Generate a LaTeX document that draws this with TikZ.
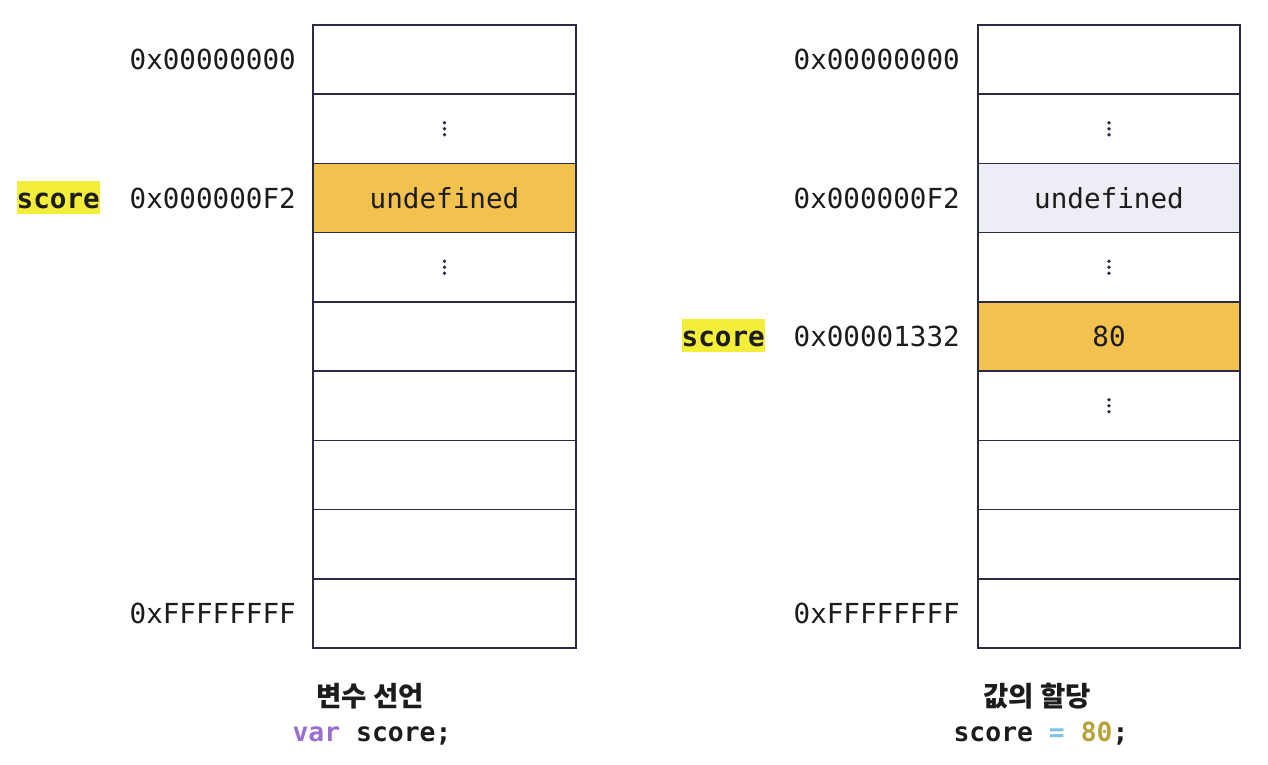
\documentclass[tikz,border=0pt]{standalone}
\usepackage{fontspec}
\setmonofont{DejaVu Sans Mono}
\newfontfamily\kr{Noto Sans CJK KR}
\usetikzlibrary{calc}
\definecolor{cellline}{HTML}{2A2A42}
\definecolor{orangefill}{HTML}{F2C14E}
\definecolor{lavfill}{HTML}{EDEDF5}
\definecolor{hl}{HTML}{F2EE3A}
\definecolor{ink}{HTML}{1C1C1C}
\definecolor{kwpurple}{HTML}{9A6FCF}
\definecolor{opblue}{HTML}{7EC3E6}
\definecolor{numgold}{HTML}{B8A23C}
\tikzset{
  cell/.style={minimum width=263pt, minimum height=69.22pt,
    inner sep=0pt, outer sep=0pt, text height=20pt, text depth=0pt,
    font=\ttfamily\fontsize{27.6}{30}\selectfont, text=ink},
  cellborder/.style={draw=cellline, line width=1.6pt},
  addr/.style={anchor=base east, inner sep=0pt, font=\ttfamily\fontsize{27.6}{30}\selectfont, text=ink},
  varname/.style={anchor=base east, inner sep=0pt, fill=hl, text height=27pt, text depth=6pt,
    font=\ttfamily\bfseries\fontsize{27.6}{30}\selectfont, text=ink},
  title/.style={anchor=base, inner sep=0pt, font=\kr\bfseries\fontsize{27.5}{30}\selectfont, text=ink},
  code/.style={anchor=base, inner sep=0pt, font=\ttfamily\bfseries\fontsize{26.4}{30}\selectfont, text=ink},
}
\newcommand{\vdotsat}[1]{%
  \fill[cellline] ($(#1)+(0,-6)$) circle (1.9pt);
  \fill[cellline] (#1) circle (1.9pt);
  \fill[cellline] ($(#1)+(0,6)$) circle (1.9pt);}
\begin{document}
\begin{tikzpicture}[x=1pt,y=-1pt]
\useasboundingbox (0,0) rectangle (1268,764);
% left memory column
\foreach \i in {0,1,3,4,5,6,7,8} {
  \pgfmathsetmacro{\cy}{25+69.22*(\i+0.5)}
  \node[cell] (L\i) at (444.5,\cy) {};
}
\node[cell, fill=orangefill] (L2) at (444.5,{25+69.22*2.5}) {undefined};
% right memory column
\foreach \i in {0,1,3,5,6,7,8} {
  \pgfmathsetmacro{\cy}{25+69.22*(\i+0.5)}
  \node[cell, minimum width=262pt] (R\i) at (1109,\cy) {};
}
\node[cell, minimum width=262pt, fill=lavfill] (R2) at (1109,{25+69.22*2.5}) {undefined};
\node[cell, minimum width=262pt, fill=orangefill] (R4) at (1109,{25+69.22*4.5}) {80};
% cell borders on top of fills
\foreach \n in {L0,L1,L2,L3,L4,L5,L6,L7,L8,R0,R1,R2,R3,R4,R5,R6,R7,R8}
  \draw[cellborder] (\n.north west) rectangle (\n.south east);
% vertical dots
\vdotsat{L1.center}
\vdotsat{L3.center}
\vdotsat{R1.center}
\vdotsat{R3.center}
\vdotsat{R5.center}
% left addresses
\node[addr] (la0) at (296,{25+69.22*0.5+10}) {0x00000000};
\node[addr] (la2) at (296,{25+69.22*2.5+10}) {0x000000F2};
\node[addr] (la8) at (296,{25+69.22*8.5+10}) {0xFFFFFFFF};
\node[varname] (ls) at (100,{25+69.22*2.5+10}) {score};
% right addresses
\node[addr] (ra0) at (960,{25+69.22*0.5+10}) {0x00000000};
\node[addr] (ra2) at (960,{25+69.22*2.5+10}) {0x000000F2};
\node[addr] (ra4) at (960,{25+69.22*4.5+10}) {0x00001332};
\node[addr] (ra8) at (960,{25+69.22*8.5+10}) {0xFFFFFFFF};
\node[varname] (rs) at (765,{25+69.22*4.5+10}) {score};
% captions
\node[title] (lt) at (370,706) {변수 선언};
\node[code] (lc) at (372,741) {\textcolor{kwpurple}{var} score;};
\node[title] (rt) at (1037,706) {값의 할당};
\node[code] (rc) at (1041,741) {score \textcolor{opblue}{=} \textcolor{numgold}{80};};
\end{tikzpicture}
\end{document}
